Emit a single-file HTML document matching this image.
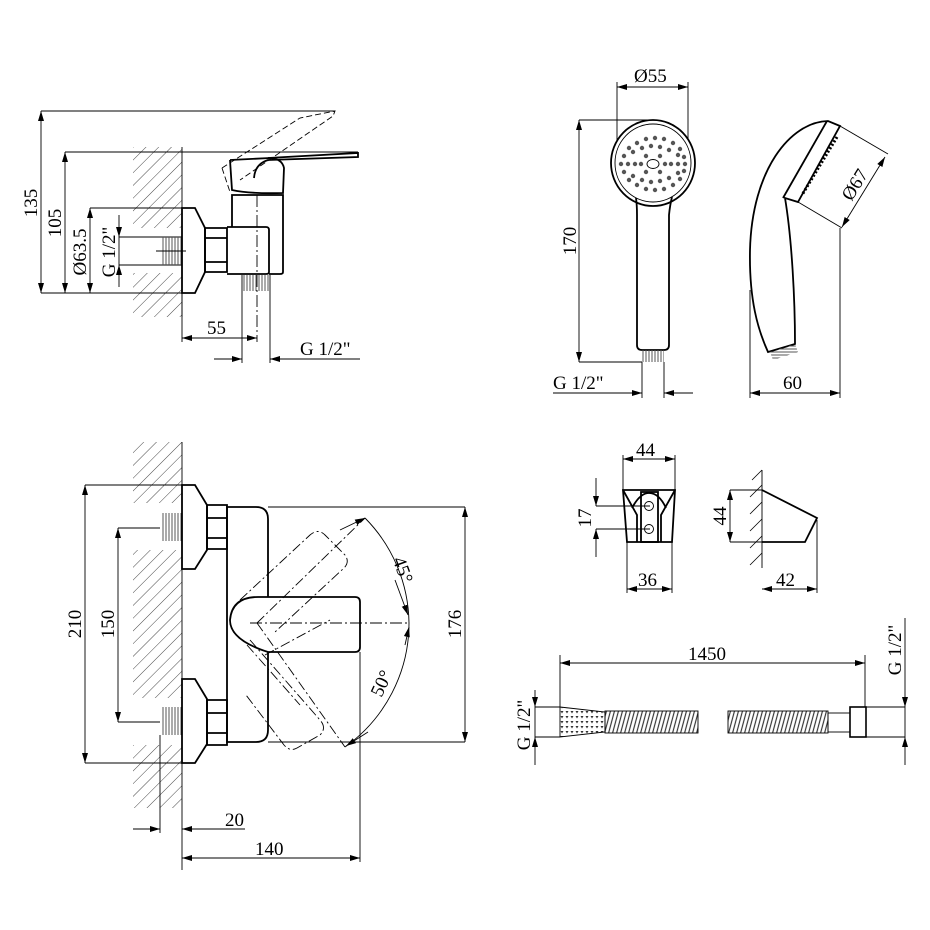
<!DOCTYPE html>
<html><head><meta charset="utf-8"><style>
html,body{margin:0;padding:0;background:#fff;}
svg{display:block}
text{font-family:"Liberation Serif",serif;font-size:19px;fill:#000}
</style></head><body>
<svg width="930" height="930" viewBox="0 0 930 930" xmlns="http://www.w3.org/2000/svg">
<defs>
<marker id="a" viewBox="0 0 10 6" refX="10" refY="3" markerWidth="10" markerHeight="6" orient="auto-start-reverse" markerUnits="userSpaceOnUse"><path d="M0,0 L10,3 L0,6 z" fill="#000"/></marker>
<pattern id="h" width="9" height="9" patternUnits="userSpaceOnUse" patternTransform="rotate(45)"><line x1="0" y1="0" x2="0" y2="9" stroke="#333" stroke-width="0.9"/></pattern>
<pattern id="th" width="3" height="10" patternUnits="userSpaceOnUse"><line x1="1" y1="0" x2="1" y2="10" stroke="#555" stroke-width="1"/></pattern>
<pattern id="tv" width="10" height="3" patternUnits="userSpaceOnUse"><line x1="0" y1="1" x2="10" y2="1" stroke="#555" stroke-width="1"/></pattern>
<pattern id="cor" width="4" height="30" patternUnits="userSpaceOnUse" patternTransform="skewX(-15)"><line x1="1" y1="0" x2="1" y2="30" stroke="#333" stroke-width="1.2"/></pattern>
<pattern id="dots" width="5" height="5" patternUnits="userSpaceOnUse"><path d="M0.5,1 L3.5,1 L2,3.5 z" fill="#333"/></pattern>
</defs>
<g fill="none" stroke="#000" stroke-width="0.9">

<!-- ===== TOP LEFT VIEW ===== -->
<rect x="133" y="147" width="49" height="81" fill="url(#h)" stroke="none"/>
<rect x="133" y="273" width="49" height="44" fill="url(#h)" stroke="none"/>
<line x1="182" y1="147" x2="182" y2="317"/>
<line x1="41" y1="111" x2="335" y2="111"/>
<line x1="65" y1="152" x2="358" y2="152"/>
<line x1="90" y1="208" x2="182" y2="208"/>
<line x1="119" y1="237" x2="182" y2="237"/>
<line x1="119" y1="265" x2="182" y2="265"/>
<line x1="41" y1="293" x2="182" y2="293"/>
<line x1="41" y1="111" x2="41" y2="293" marker-start="url(#a)" marker-end="url(#a)"/>
<line x1="65" y1="152" x2="65" y2="293" marker-start="url(#a)" marker-end="url(#a)"/>
<line x1="90" y1="208" x2="90" y2="293" marker-start="url(#a)" marker-end="url(#a)"/>
<line x1="119" y1="215" x2="119" y2="237" marker-end="url(#a)"/>
<line x1="119" y1="287" x2="119" y2="265" marker-end="url(#a)"/>
<line x1="119" y1="237" x2="119" y2="265"/>
<rect x="162" y="237" width="20" height="28" fill="url(#th)" stroke="none"/>
<line x1="156" y1="251" x2="186" y2="251"/>
<g stroke-width="1.8">
<path d="M182,208 L195,208 L205,228 L205,272 L195,293 L182,293 z"/>
<path d="M205,228 L227,228 L227,272 L205,272 z"/>
<line x1="205" y1="238" x2="227" y2="238"/><line x1="205" y1="262" x2="227" y2="262"/>
<path d="M227,227 L266,227 Q269,227 269,230 L269,272 Q269,274 266,274 L227,274"/>
<path d="M232,227 L232,195 L283,195 L283,272 Q283,274 280,274 L269,274"/>
<path d="M230,160 L232,190 Q250,194 283,193 L284,168 Q282,158 268,158 L358,153 L358,157 L268,160 Q255,164 254,178"/>
<line x1="230" y1="160" x2="270" y2="158"/>
</g>
<path d="M222,168 L300,118 L335,111 L333,116 L240,180" stroke-dasharray="6,3"/>
<path d="M222,168 L230,192" stroke-dasharray="6,3"/>
<rect x="242" y="275" width="28" height="16" fill="url(#th)" stroke="none"/>
<line x1="242" y1="275" x2="242" y2="363"/><line x1="270" y1="275" x2="270" y2="363"/>
<line x1="257" y1="195" x2="257" y2="342" stroke-dasharray="12,3,2,3"/>
<line x1="182" y1="293" x2="182" y2="342"/>
<line x1="182" y1="338" x2="257" y2="338" marker-start="url(#a)" marker-end="url(#a)"/>
<line x1="214" y1="359" x2="242" y2="359" marker-end="url(#a)"/>
<line x1="360" y1="359" x2="270" y2="359" marker-end="url(#a)"/>
</g>
<text x="207" y="334">55</text>
<text x="300" y="355">G 1/2"</text>
<text transform="translate(37,203) rotate(-90)" text-anchor="middle">135</text>
<text transform="translate(61,223) rotate(-90)" text-anchor="middle">105</text>
<text transform="translate(86,252) rotate(-90)" text-anchor="middle">Ø63.5</text>
<text transform="translate(115,252) rotate(-90)" text-anchor="middle">G 1/2"</text>

<!-- ===== BOTTOM LEFT VIEW ===== -->
<g fill="none" stroke="#000" stroke-width="0.9">
<rect x="133" y="442" width="49" height="61" fill="url(#h)" stroke="none"/>
<rect x="133" y="550" width="49" height="148" fill="url(#h)" stroke="none"/>
<rect x="133" y="745" width="49" height="63" fill="url(#h)" stroke="none"/>
<line x1="182" y1="442" x2="182" y2="870"/>
<line x1="85" y1="485" x2="182" y2="485"/>
<line x1="85" y1="763" x2="182" y2="763"/>
<line x1="85" y1="485" x2="85" y2="763" marker-start="url(#a)" marker-end="url(#a)"/>
<line x1="118" y1="528" x2="160" y2="528"/>
<line x1="118" y1="722" x2="160" y2="722"/>
<line x1="118" y1="528" x2="118" y2="722" marker-start="url(#a)" marker-end="url(#a)"/>
<rect x="162" y="513" width="20" height="28" fill="url(#th)" stroke="none"/>
<rect x="162" y="707" width="20" height="28" fill="url(#th)" stroke="none"/>
<g stroke-width="1.8">
<path d="M182,485 L195,485 L207,505 L207,550 L195,569 L182,569 z"/>
<path d="M207,505 L227,505 L227,549 L207,549 z"/>
<line x1="207" y1="518" x2="227" y2="518"/><line x1="207" y1="538" x2="227" y2="538"/>
<path d="M182,679 L195,679 L207,699 L207,744 L195,763 L182,763 z"/>
<path d="M207,700 L227,700 L227,745 L207,745 z"/>
<line x1="207" y1="713" x2="227" y2="713"/><line x1="207" y1="733" x2="227" y2="733"/>
<path d="M227,507 L256,507 Q268,507 268,519 L268,730 Q268,742 256,742 L227,742 z"/>
<path d="M258,597 L355,597 Q360,597 360,602 L360,647 Q360,652 355,652 L268,652 Q230,640 230,620 Q232,597 258,597 z" fill="#fff"/>
</g>
<line x1="250" y1="623" x2="410" y2="623" stroke-dasharray="12,3,2,3"/>
<g stroke-dasharray="10,3,2,3">
<path d="M257,623 L365,518"/>
<path d="M257,623 L345,747"/>
<path d="M240,600 L310,535 Q318,528 325,535 L345,555 Q350,562 344,568 L275,632"/>
<path d="M250,640 L320,720 Q327,728 320,735 L297,748 Q290,752 284,745 L246,695"/>
<path d="M247,645 L300,705"/>
<path d="M265,655 L330,620"/>
</g>
<path d="M365,518 A152,152 0 0 1 409,623 A152,152 0 0 1 345,747"/>
<line x1="395" y1="580" x2="408" y2="615" marker-end="url(#a)"/>
<line x1="340" y1="530" x2="365" y2="518" marker-end="url(#a)"/>
<line x1="405" y1="645" x2="409" y2="627" marker-end="url(#a)"/>
<line x1="368" y1="732" x2="346" y2="746" marker-end="url(#a)"/>
<line x1="268" y1="507" x2="465" y2="507"/>
<line x1="268" y1="742" x2="465" y2="742"/>
<line x1="465" y1="507" x2="465" y2="742" marker-start="url(#a)" marker-end="url(#a)"/>
<line x1="160" y1="735" x2="160" y2="833"/>
<line x1="360" y1="652" x2="360" y2="862"/>
<line x1="133" y1="829" x2="160" y2="829" marker-end="url(#a)"/>
<line x1="245" y1="829" x2="182" y2="829" marker-end="url(#a)"/>
<line x1="182" y1="858" x2="360" y2="858" marker-start="url(#a)" marker-end="url(#a)"/>
</g>
<text transform="translate(81,624) rotate(-90)" text-anchor="middle">210</text>
<text transform="translate(114,624) rotate(-90)" text-anchor="middle">150</text>
<text transform="translate(461,624) rotate(-90)" text-anchor="middle">176</text>
<text transform="translate(397,572) rotate(70)" text-anchor="middle">45°</text>
<text transform="translate(387,686) rotate(-65)" text-anchor="middle">50°</text>
<text x="225" y="826">20</text>
<text x="255" y="855">140</text>

<!-- ===== SHOWER HEAD ===== -->
<g fill="none" stroke="#000" stroke-width="0.9">
<line x1="617" y1="82" x2="617" y2="140"/><line x1="688" y1="82" x2="688" y2="140"/>
<line x1="617" y1="87" x2="688" y2="87" marker-start="url(#a)" marker-end="url(#a)"/>
<line x1="579" y1="120" x2="655" y2="120"/>
<line x1="579" y1="362" x2="642" y2="362"/>
<line x1="579" y1="120" x2="579" y2="362" marker-start="url(#a)" marker-end="url(#a)"/>
<g stroke-width="1.8">
<ellipse cx="653" cy="163" rx="42" ry="43"/>
<path d="M636,198 Q637,205 637,215 L637,345 Q637,350 642,350 L664,350 Q669,350 669,345 L669,215 Q670,205 672,197"/>
<path d="M828,121 C790,122 752,170 750,250 C749,300 758,330 768,352 L795,344 C795,300 792,240 785,198 L798,202 L840,126 z"/>
<line x1="827" y1="121" x2="783" y2="198"/>
</g>
<ellipse cx="653" cy="163" rx="38" ry="39"/>
<ellipse cx="653" cy="164" rx="6" ry="4.5"/>
<rect x="642" y="350" width="22" height="12" fill="url(#th)" stroke="none"/>
<line x1="642" y1="362" x2="642" y2="398"/><line x1="664" y1="362" x2="664" y2="398"/>
<line x1="553" y1="393" x2="642" y2="393" marker-end="url(#a)"/>
<line x1="693" y1="393" x2="664" y2="393" marker-end="url(#a)"/>
<path d="M837,137 L802,195" stroke-width="3" stroke-dasharray="2,2"/>
<line x1="840" y1="126" x2="888" y2="154"/>
<line x1="798" y1="202" x2="842" y2="228"/>
<line x1="885" y1="157" x2="842" y2="227" marker-start="url(#a)" marker-end="url(#a)"/>
<line x1="840" y1="228" x2="840" y2="398"/>
<line x1="750" y1="290" x2="750" y2="398"/>
<line x1="750" y1="393" x2="840" y2="393" marker-start="url(#a)" marker-end="url(#a)"/>
<path d="M770,352 L795,344 L798,352 L773,360 z" fill="url(#tv)" stroke="none"/>
</g>
<g fill="#555">
<circle cx="629" cy="148" r="2.2"/><circle cx="637" cy="143" r="2.2"/><circle cx="646" cy="139" r="2.2"/><circle cx="655" cy="138" r="2.2"/><circle cx="664" cy="139" r="2.2"/><circle cx="673" cy="143" r="2.2"/><circle cx="680" cy="149" r="2.2"/>
<circle cx="624" cy="156" r="2.2"/><circle cx="633" cy="152" r="2.2"/><circle cx="642" cy="148" r="2.2"/><circle cx="651" cy="146" r="2.2"/><circle cx="660" cy="147" r="2.2"/><circle cx="669" cy="150" r="2.2"/><circle cx="678" cy="155" r="2.2"/><circle cx="684" cy="157" r="2.2"/>
<circle cx="621" cy="164" r="2.2"/><circle cx="628" cy="164" r="2.2"/><circle cx="635" cy="164" r="2.2"/><circle cx="641" cy="164" r="2.2"/><circle cx="665" cy="164" r="2.2"/><circle cx="671" cy="164" r="2.2"/><circle cx="678" cy="164" r="2.2"/><circle cx="685" cy="164" r="2.2"/>
<circle cx="624" cy="172" r="2.2"/><circle cx="633" cy="176" r="2.2"/><circle cx="642" cy="180" r="2.2"/><circle cx="651" cy="182" r="2.2"/><circle cx="660" cy="181" r="2.2"/><circle cx="669" cy="178" r="2.2"/><circle cx="678" cy="173" r="2.2"/><circle cx="684" cy="171" r="2.2"/>
<circle cx="629" cy="180" r="2.2"/><circle cx="637" cy="185" r="2.2"/><circle cx="646" cy="189" r="2.2"/><circle cx="655" cy="190" r="2.2"/><circle cx="664" cy="189" r="2.2"/><circle cx="673" cy="185" r="2.2"/><circle cx="680" cy="179" r="2.2"/>
<circle cx="646" cy="156" r="2.2"/><circle cx="660" cy="156" r="2.2"/><circle cx="646" cy="172" r="2.2"/><circle cx="660" cy="172" r="2.2"/>
</g>
<text x="634" y="82">Ø55</text>
<text transform="translate(576,241) rotate(-90)" text-anchor="middle">170</text>
<text x="553" y="389">G 1/2"</text>
<text x="783" y="389">60</text>
<text transform="translate(860,188) rotate(-58)" text-anchor="middle">Ø67</text>

<!-- ===== HOLDER ===== -->
<g fill="none" stroke="#000" stroke-width="0.9">
<line x1="623" y1="455" x2="623" y2="490"/><line x1="675" y1="455" x2="675" y2="490"/>
<line x1="623" y1="459" x2="675" y2="459" marker-start="url(#a)" marker-end="url(#a)"/>
<line x1="627" y1="542" x2="627" y2="593"/><line x1="672" y1="542" x2="672" y2="593"/>
<line x1="627" y1="589" x2="672" y2="589" marker-start="url(#a)" marker-end="url(#a)"/>
<line x1="596" y1="478" x2="596" y2="506" marker-end="url(#a)"/>
<line x1="596" y1="557" x2="596" y2="529" marker-end="url(#a)"/>
<line x1="596" y1="506" x2="650" y2="506"/><line x1="596" y1="529" x2="650" y2="529"/>
<g stroke-width="1.8">
<path d="M623,490 L675,490 L672,542 L627,542 z"/>
<path d="M623,490 L637,515 L637,542 M675,490 L661,515 L661,542"/>
<path d="M632,508 Q640,493 649,493 Q659,493 666,508"/>
<rect x="641" y="492" width="17" height="50"/>
<path d="M762,490 L817,518 L805,542 L762,542"/>
</g>
<circle cx="649" cy="506" r="4.5"/><circle cx="649" cy="529" r="4.5"/>
<line x1="762" y1="470" x2="762" y2="568"/>
<g stroke-width="0.8"><line x1="752" y1="480" x2="762" y2="470"/><line x1="750" y1="497" x2="762" y2="485"/><line x1="750" y1="514" x2="762" y2="502"/><line x1="750" y1="531" x2="762" y2="519"/><line x1="750" y1="548" x2="762" y2="536"/><line x1="750" y1="565" x2="762" y2="553"/></g>
<line x1="730" y1="490" x2="762" y2="490"/><line x1="730" y1="542" x2="762" y2="542"/>
<line x1="730" y1="490" x2="730" y2="542" marker-start="url(#a)" marker-end="url(#a)"/>
<line x1="817" y1="520" x2="817" y2="593"/>
<line x1="762" y1="589" x2="817" y2="589" marker-start="url(#a)" marker-end="url(#a)"/>
</g>
<text x="636" y="456">44</text>
<text x="638" y="586">36</text>
<text x="776" y="586">42</text>
<text transform="translate(591,518) rotate(-90)" text-anchor="middle">17</text>
<text transform="translate(726,516) rotate(-90)" text-anchor="middle">44</text>

<!-- ===== HOSE ===== -->
<g fill="none" stroke="#000" stroke-width="0.9">
<line x1="560" y1="655" x2="560" y2="707"/><line x1="865" y1="655" x2="865" y2="707"/>
<line x1="560" y1="663" x2="865" y2="663" marker-start="url(#a)" marker-end="url(#a)"/>
<path d="M560,707 L605,712 L605,732 L560,737 z" fill="url(#dots)"/>
<rect x="605" y="711" width="93" height="22" fill="url(#cor)"/>
<rect x="728" y="711" width="100" height="22" fill="url(#cor)"/>
<rect x="828" y="713" width="22" height="19"/>
<rect x="850" y="707" width="16" height="30" stroke-width="1.6"/>
<line x1="535" y1="707" x2="560" y2="707"/><line x1="535" y1="737" x2="560" y2="737"/>
<line x1="535" y1="690" x2="535" y2="707" marker-end="url(#a)"/>
<line x1="535" y1="765" x2="535" y2="737" marker-end="url(#a)"/>
<line x1="535" y1="707" x2="535" y2="737"/>
<line x1="866" y1="707" x2="905" y2="707"/><line x1="866" y1="737" x2="905" y2="737"/>
<line x1="905" y1="618" x2="905" y2="707" marker-end="url(#a)"/>
<line x1="905" y1="765" x2="905" y2="737" marker-end="url(#a)"/>
<line x1="905" y1="707" x2="905" y2="737"/>
</g>
<text x="688" y="660">1450</text>
<text transform="translate(530,725) rotate(-90)" text-anchor="middle">G 1/2"</text>
<text transform="translate(901,650) rotate(-90)" text-anchor="middle">G 1/2"</text>
</svg>
</body></html>
